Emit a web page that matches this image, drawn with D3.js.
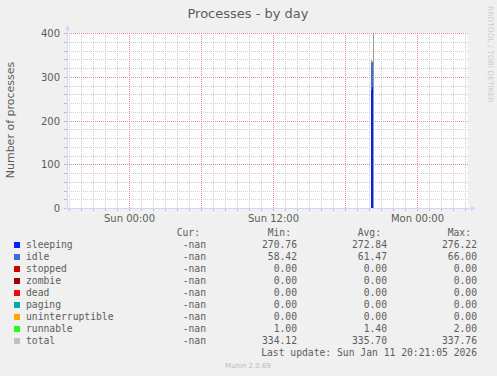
<!DOCTYPE html>
<html>
<head>
<meta charset="utf-8">
<script src="https://cdn.jsdelivr.net/npm/d3@7"></script>
<style>
  body { margin: 0; background: #f0f0f0; }
  svg { display: block; }
</style>
</head>
<body>
<div id="chart"></div>
<script>
// sample times (5 min steps) and stacked series values
let sampleTimes = [
  new Date(2026, 0, 11, 20, 10),
  new Date(2026, 0, 11, 20, 15),
  new Date(2026, 0, 11, 20, 20)
]
let sleeping = [270.76, 276.22, 271.54]
let idle = [66.0, 58.42, 59.99]
let stopped = [0, 0, 0]
let zombie = [0, 0, 0]
let dead = [0, 0, 0]
let paging = [0, 0, 0]
let uninterruptible = [0, 0, 0]
let runnable = [1.0, 2.0, 1.2]
let total = [337.76, 334.12, 335.22]
let spikeTime = new Date(2026, 0, 11, 20, 25)

// legend table
let seriesNames = ['sleeping', 'idle', 'stopped', 'zombie', 'dead', 'paging', 'uninterruptible', 'runnable', 'total']
let seriesColors = ['#0022ff', '#4169e1', '#cc0000', '#990000', '#ff0000', '#00aaaa', '#ffa500', '#22ff22', '#c0c0c0']
let curValues = ['-nan', '-nan', '-nan', '-nan', '-nan', '-nan', '-nan', '-nan', '-nan']
let minValues = ['270.76', '58.42', '0.00', '0.00', '0.00', '0.00', '0.00', '1.00', '334.12']
let avgValues = ['272.84', '61.47', '0.00', '0.00', '0.00', '0.00', '0.00', '1.40', '335.70']
let maxValues = ['276.22', '66.00', '0.00', '0.00', '0.00', '0.00', '0.00', '2.00', '337.76']

let timeStart = new Date(2026, 0, 10, 18, 50)
let timeEnd = new Date(2026, 0, 12, 4, 15)
let yTicks = [0, 100, 200, 300, 400]

let width = 497
let height = 376
let plot = { left: 67, right: 468, top: 33, bottom: 208 }
let fontColor = '#5c5c5c'

let svg = d3
  .select('#chart')
  .append('svg')
  .attr('width', width)
  .attr('height', height)
  .style('font-family', 'DejaVu Sans, sans-serif')

svg.append('rect').attr('width', width).attr('height', height).attr('fill', '#f0f0f0')

let xPositionScale = d3.scaleTime().domain([timeStart, timeEnd]).range([plot.left, plot.right])
let yPositionScale = d3.scaleLinear().domain([0, 400]).range([plot.bottom, plot.top])

svg
  .append('rect')
  .attr('x', plot.left)
  .attr('y', plot.top)
  .attr('width', plot.right - plot.left)
  .attr('height', plot.bottom - plot.top)
  .attr('fill', '#ffffff')

// grid
let minorColor = '#d0d0d0'
let majorColor = '#e49090'
let grid = svg.append('g')
let minorY = d3.range(0, 401, 20).filter(d => d % 100 !== 0)
grid
  .selectAll('.minor-y')
  .data(minorY)
  .enter()
  .append('line')
  .attr('x1', plot.left)
  .attr('x2', plot.right)
  .attr('y1', d => Math.round(yPositionScale(d)) + 0.5)
  .attr('y2', d => Math.round(yPositionScale(d)) + 0.5)
  .attr('stroke', minorColor)
  .attr('stroke-dasharray', '1,1')

let hours = d3.timeHour.every(1).range(timeStart, timeEnd).filter(d => d.getHours() % 6 !== 0)
grid
  .selectAll('.minor-x')
  .data(hours)
  .enter()
  .append('line')
  .attr('x1', d => Math.round(xPositionScale(d)) + 0.5)
  .attr('x2', d => Math.round(xPositionScale(d)) + 0.5)
  .attr('y1', plot.top)
  .attr('y2', plot.bottom)
  .attr('stroke', minorColor)
  .attr('stroke-dasharray', '1,1')

grid
  .selectAll('.major-y')
  .data(yTicks.filter(d => d > 0))
  .enter()
  .append('line')
  .attr('x1', plot.left)
  .attr('x2', plot.right)
  .attr('y1', d => Math.round(yPositionScale(d)) + 0.5)
  .attr('y2', d => Math.round(yPositionScale(d)) + 0.5)
  .attr('stroke', majorColor)
  .attr('stroke-dasharray', '1,1')

let sixHours = d3.timeHour.every(6).range(timeStart, timeEnd)
grid
  .selectAll('.major-x')
  .data(sixHours)
  .enter()
  .append('line')
  .attr('x1', d => Math.round(xPositionScale(d)) + 0.5)
  .attr('x2', d => Math.round(xPositionScale(d)) + 0.5)
  .attr('y1', plot.top)
  .attr('y2', plot.bottom)
  .attr('stroke', majorColor)
  .attr('stroke-dasharray', '1,1')

// tick marks outside the axes
grid
  .selectAll('.ytick')
  .data(d3.range(0, 401, 20))
  .enter()
  .append('line')
  .attr('x1', plot.left - 3)
  .attr('x2', plot.left)
  .attr('y1', d => Math.round(yPositionScale(d)) + 0.5)
  .attr('y2', d => Math.round(yPositionScale(d)) + 0.5)
  .attr('stroke', '#bbbbbb')
grid
  .selectAll('.xtick')
  .data(d3.timeHour.every(1).range(timeStart, timeEnd))
  .enter()
  .append('line')
  .attr('x1', d => Math.round(xPositionScale(d)) + 0.5)
  .attr('x2', d => Math.round(xPositionScale(d)) + 0.5)
  .attr('y1', plot.bottom)
  .attr('y2', plot.bottom + 3)
  .attr('stroke', '#bbbbbb')

// stacked bars
let stackData = sampleTimes.map((t, i) => ({
  time: t,
  sleeping: sleeping[i],
  idle: idle[i],
  stopped: stopped[i],
  zombie: zombie[i],
  dead: dead[i],
  paging: paging[i],
  uninterruptible: uninterruptible[i],
  runnable: runnable[i]
}))
let stackKeys = seriesNames.slice(0, 8)
let stacked = d3.stack().keys(stackKeys)(stackData)

let bars = svg.append('g').attr('shape-rendering', 'crispEdges')
stacked.forEach((layer, k) => {
  bars
    .selectAll('.layer-' + k)
    .data(layer)
    .enter()
    .append('rect')
    .attr('x', d => Math.round(xPositionScale(d.data.time)))
    .attr('width', d => Math.round(xPositionScale(d3.timeMinute.offset(d.data.time, 5))) - Math.round(xPositionScale(d.data.time)))
    .attr('y', d => Math.round(yPositionScale(d[1])))
    .attr('height', d => Math.round(yPositionScale(d[0])) - Math.round(yPositionScale(d[1])))
    .attr('fill', seriesColors[k])
})

// total line
let totalLine = d3
  .line()
  .curve(d3.curveStepBefore)
  .x(d => xPositionScale(d.t))
  .y(d => yPositionScale(d.v))
svg
  .append('path')
  .datum(sampleTimes.map((t, i) => ({ t: t, v: total[i] })))
  .attr('d', totalLine)
  .attr('fill', 'none')
  .attr('stroke', seriesColors[8])
  .attr('stroke-width', 1)

svg
  .append('line')
  .attr('x1', Math.round(xPositionScale(spikeTime)) - 0.5)
  .attr('x2', Math.round(xPositionScale(spikeTime)) - 0.5)
  .attr('y1', yPositionScale(400))
  .attr('y2', yPositionScale(0))
  .attr('stroke', '#999999')

// axes
let axisColor = '#cfd6f8'
svg
  .append('line')
  .attr('x1', plot.left + 0.5)
  .attr('x2', plot.left + 0.5)
  .attr('y1', plot.bottom + 2)
  .attr('y2', plot.top - 4)
  .attr('stroke', axisColor)
svg
  .append('path')
  .attr('d', `M${plot.left - 2},${plot.top - 3} L${plot.left + 3},${plot.top - 3} L${plot.left + 0.5},${plot.top - 8} Z`)
  .attr('fill', axisColor)
svg
  .append('line')
  .attr('x1', plot.left - 2)
  .attr('x2', plot.right + 4)
  .attr('y1', plot.bottom + 0.5)
  .attr('y2', plot.bottom + 0.5)
  .attr('stroke', axisColor)
svg
  .append('path')
  .attr('d', `M${plot.right + 3},${plot.bottom - 2} L${plot.right + 3},${plot.bottom + 3} L${plot.right + 8},${plot.bottom + 0.5} Z`)
  .attr('fill', axisColor)

// tick labels
svg
  .selectAll('.ylabel')
  .data(yTicks)
  .enter()
  .append('text')
  .attr('x', plot.left - 7)
  .attr('y', d => yPositionScale(d) + 4)
  .attr('text-anchor', 'end')
  .attr('font-size', 10)
  .attr('fill', fontColor)
  .text(d => d)

let timeFormat = d3.timeFormat('%a %H:%M')
svg
  .selectAll('.xlabel')
  .data(d3.timeHour.every(12).range(timeStart, timeEnd))
  .enter()
  .append('text')
  .attr('x', d => xPositionScale(d) + 0.5)
  .attr('y', plot.bottom + 14)
  .attr('text-anchor', 'middle')
  .attr('font-size', 10)
  .attr('fill', fontColor)
  .text(d => timeFormat(d))

// titles
svg
  .append('text')
  .attr('x', 248)
  .attr('y', 18)
  .attr('text-anchor', 'middle')
  .attr('font-size', 13)
  .attr('fill', fontColor)
  .text('Processes - by day')

svg
  .append('text')
  .attr('transform', 'translate(14,120) rotate(-90)')
  .attr('text-anchor', 'middle')
  .attr('font-size', 11)
  .attr('fill', fontColor)
  .text('Number of processes')

svg
  .append('text')
  .attr('transform', 'translate(488,6) rotate(90)')
  .attr('text-anchor', 'start')
  .attr('font-size', 7.5)
  .attr('fill', '#cccccc')
  .text('RRDTOOL / TOBI OETIKER')

// legend
let legend = svg.append('g').style('font-family', 'DejaVu Sans Mono, monospace').attr('font-size', 9.7).attr('fill', fontColor)
let cols = [
  { head: 'Cur:', x: 206, values: curValues },
  { head: 'Min:', x: 297, values: minValues },
  { head: 'Avg:', x: 387, values: avgValues },
  { head: 'Max:', x: 477, values: maxValues }
]
cols.forEach(c => {
  legend
    .append('text')
    .attr('x', c.x - 6)
    .attr('y', 236)
    .attr('text-anchor', 'end')
    .text(c.head)
})

let rowY = d3.scaleLinear().domain([0, 1]).range([248, 260])
seriesNames.forEach((name, i) => {
  legend
    .append('rect')
    .attr('x', 14)
    .attr('y', rowY(i) - 6)
    .attr('width', 6)
    .attr('height', 6)
    .attr('fill', seriesColors[i])
  legend
    .append('text')
    .attr('x', 26)
    .attr('y', rowY(i))
    .text(name)
  cols.forEach(c => {
    legend
      .append('text')
      .attr('x', c.x)
      .attr('y', rowY(i))
      .attr('text-anchor', 'end')
      .text(c.values[i])
  })
})

legend
  .append('text')
  .attr('x', 477)
  .attr('y', rowY(9))
  .attr('text-anchor', 'end')
  .text('Last update: Sun Jan 11 20:21:05 2026')

svg
  .append('text')
  .attr('x', 248)
  .attr('y', 368)
  .attr('text-anchor', 'middle')
  .attr('font-size', 7)
  .attr('fill', '#bbbbbb')
  .text('Munin 2.0.69')
</script>
</body>
</html>
